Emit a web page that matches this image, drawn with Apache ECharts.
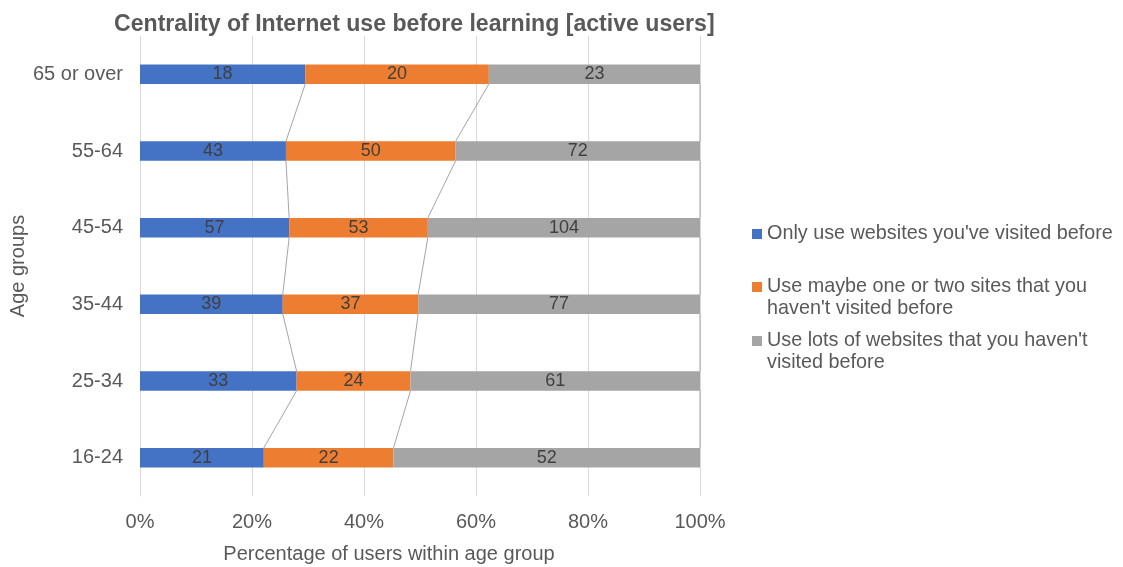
<!DOCTYPE html>
<html>
<head>
<meta charset="utf-8">
<script src="https://cdn.jsdelivr.net/npm/echarts@6/dist/echarts.min.js"></script>
<style>
  html, body { margin: 0; padding: 0; background: #fff; }
  #chart { width: 1123px; height: 567px; }
</style>
</head>
<body>
<div id="chart"></div>
<script>
// Age groups, listed bottom to top on the category axis
const ageGroups = ['16-24', '25-34', '35-44', '45-54', '55-64', '65 or over'];

// Counts of active users per answer
const onlyVisited = [21, 33, 39, 57, 43, 18];
const oneOrTwoNew = [22, 24, 37, 53, 50, 20];
const lotsOfNew   = [52, 61, 77, 104, 72, 23];

const seriesNames = [
  "Only use websites you've visited before",
  "Use maybe one or two sites that you\nhaven't visited before",
  "Use lots of websites that you haven't\nvisited before"
];

const xTicks = [0, 20, 40, 60, 80, 100];

const colors = ['#4472c4', '#ed7d31', '#a5a5a5'];
const textColor = '#595959';
const font = 'Liberation Sans, Arial, sans-serif';

// Share of each answer within its age group (100% stacked)
const counts = [onlyVisited, oneOrTwoNew, lotsOfNew];
const totals = ageGroups.map((_, i) => counts.reduce((s, arr) => s + arr[i], 0));
const shares = counts.map(arr => arr.map((v, i) => v / totals[i] * 100));

// Cumulative boundaries, used for the connector lines between bars
const cum1 = shares[0];
const cum2 = shares[0].map((v, i) => v + shares[1][i]);
const connectorData = [];
for (let i = 0; i < ageGroups.length - 1; i++) {
  connectorData.push([i, cum1[i], cum2[i], 100, cum1[i + 1], cum2[i + 1], 100]);
}

const BAR_FRACTION = 0.255;

const barSeries = counts.map((arr, s) => ({
  name: seriesNames[s].replace('\n', ' '),
  type: 'bar',
  stack: 'total',
  barWidth: (BAR_FRACTION * 100) + '%',
  itemStyle: { color: colors[s] },
  z: 3,
  label: {
    show: true,
    position: 'inside',
    color: '#404040',
    fontSize: 18,
    fontFamily: font,
    formatter: p => String(arr[p.dataIndex])
  },
  data: shares[s]
}));

const connectorSeries = {
  type: 'custom',
  name: 'connectors',
  z: 2,
  silent: true,
  encode: { x: [1, 2, 3, 4, 5, 6], y: 0 },
  renderItem: function (params, api) {
    const i = api.value(0);
    const h = api.size([0, 1])[1] * BAR_FRACTION;
    const children = [];
    for (let k = 1; k <= 3; k++) {
      const a = api.coord([api.value(k), i]);
      const b = api.coord([api.value(k + 3), i + 1]);
      children.push({
        type: 'line',
        shape: { x1: a[0], y1: a[1] - h / 2, x2: b[0], y2: b[1] + h / 2 },
        style: { stroke: '#a5a5a5', lineWidth: 1 }
      });
    }
    return { type: 'group', children };
  },
  data: connectorData
};

// Square marker that sits beside the first line of a two-line legend entry
const TWO_LINE_ICON = 'path://M0,0L10,0L10,10L0,10Z M0,32L0,32';

function legendFor(idx, top, twoLine) {
  return {
    data: [{ name: seriesNames[idx].replace('\n', ' '), icon: twoLine ? TWO_LINE_ICON : 'rect' }],
    orient: 'vertical',
    left: 752,
    top: top,
    padding: 0,
    itemWidth: 10,
    itemHeight: twoLine ? 32 : 10,
    itemGap: 5,
    selectedMode: false,
    formatter: () => seriesNames[idx],
    textStyle: {
      color: textColor,
      fontSize: 19.8,
      fontFamily: font,
      lineHeight: 22
    }
  };
}

const chart = echarts.init(document.getElementById('chart'), null, { renderer: 'canvas' });
chart.setOption({
  animation: false,
  backgroundColor: '#ffffff',
  color: colors,
  title: {
    text: 'Centrality of Internet use before learning [active users]',
    left: 109,
    top: 8,
    textStyle: { color: textColor, fontSize: 23.1, fontWeight: 'bold', fontFamily: font }
  },
  legend: [
    legendFor(0, 223, false),
    legendFor(1, 276, true),
    legendFor(2, 330, true)
  ],
  grid: { left: 140, right: 423, top: 36, bottom: 71, containLabel: false, outerBoundsMode: 'none' },
  xAxis: {
    type: 'value',
    min: xTicks[0],
    max: xTicks[xTicks.length - 1],
    interval: xTicks[1] - xTicks[0],
    name: 'Percentage of users within age group',
    nameLocation: 'middle',
    nameGap: 48,
    nameTextStyle: { color: textColor, fontSize: 20, fontFamily: font, padding: [0, 62, 0, 0] },
    axisLine: { show: false },
    axisTick: { show: false },
    axisLabel: { color: textColor, fontSize: 20, fontFamily: font, margin: 16, formatter: '{value}%' },
    splitLine: { show: true, lineStyle: { color: '#d9d9d9', width: 1 } }
  },
  yAxis: {
    type: 'category',
    data: ageGroups,
    name: 'Age groups',
    nameLocation: 'middle',
    nameGap: 112,
    nameRotate: 90,
    nameTextStyle: { color: textColor, fontSize: 20, fontFamily: font },
    axisLine: { show: true, lineStyle: { color: '#d9d9d9', width: 1 } },
    axisTick: { show: false },
    axisLabel: { color: textColor, fontSize: 20, fontFamily: font, margin: 17 }
  },
  series: [connectorSeries, ...barSeries]
});
</script>
</body>
</html>
